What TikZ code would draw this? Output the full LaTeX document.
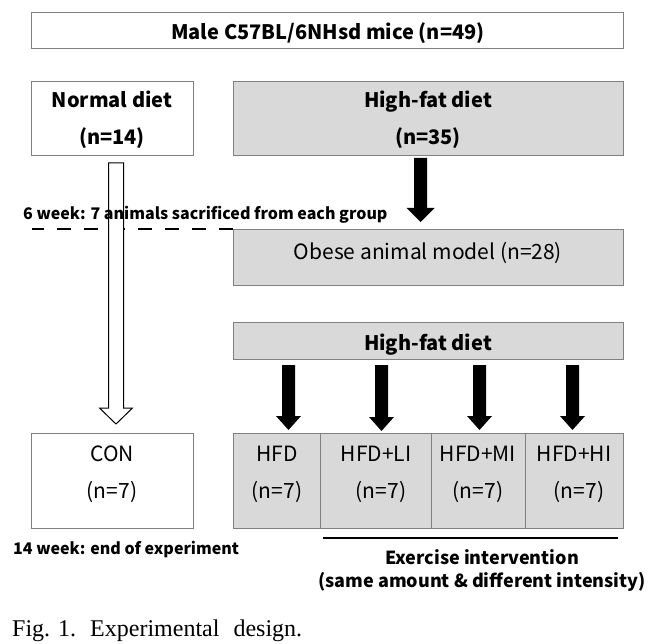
\documentclass[tikz,border=0pt]{standalone}
\usepackage{fontspec}
\setmainfont{Liberation Serif}
\newfontfamily\kr{Noto Sans CJK KR}
\usetikzlibrary{calc}
\definecolor{boxgray}{HTML}{D9D9D9}
\definecolor{edgegray}{HTML}{808080}
\newcommand{\blockarrow}[6]{%
  \path[#1] let \p1=(#2), \p2=(#3) in
  (\x1-#4pt,\y1) -- (\x1+#4pt,\y1) -- (\x1+#4pt,\y2+#6pt) -- (\x1+#5pt,\y2+#6pt)
  -- (\x1,\y2) -- (\x1-#5pt,\y2+#6pt) -- (\x1-#4pt,\y2+#6pt) -- cycle;}
\begin{document}
\begin{tikzpicture}[x=1pt,y=-1pt,
  box/.style={draw=edgegray, line width=1pt, inner sep=0pt, anchor=north west},
  gbox/.style={box, fill=boxgray},
  lbl/.style={font=\kr\fontsize{21}{25}\selectfont, inner sep=0pt, anchor=base},
  blbl/.style={font=\kr\bfseries\fontsize{20}{24}\selectfont, inner sep=0pt, anchor=base},
  note/.style={font=\kr\bfseries\fontsize{16}{19}\selectfont, inner sep=0pt, anchor=base west},
  exer/.style={font=\kr\bfseries\fontsize{18}{22}\selectfont, inner sep=0pt, anchor=base},
  blackarr/.style={fill=black},
  hollowarr/.style={fill=white, draw=black, line width=1pt},
]
\useasboundingbox[fill=white] (0,0) rectangle (666,644);

% boxes
\node[box, minimum width=592pt, minimum height=36pt] (top) at (31,12) {};
\node[box, minimum width=162pt, minimum height=74pt] (nd) at (31,81) {};
\node[gbox, minimum width=390pt, minimum height=74pt] (hf) at (233,81) {};
\node[gbox, minimum width=390pt, minimum height=56pt] (obese) at (233,229) {};
\node[gbox, minimum width=390pt, minimum height=37pt] (hf2) at (233,322) {};
\node[box, minimum width=162pt, minimum height=95pt] (con) at (31,433) {};
\node[gbox, minimum width=87pt, minimum height=95pt] (g1) at (233,433) {};
\node[gbox, minimum width=111pt, minimum height=95pt] (g2) at (320,433) {};
\node[gbox, minimum width=94pt, minimum height=95pt] (g3) at (431,433) {};
\node[gbox, minimum width=98pt, minimum height=95pt] (g4) at (525,433) {};

% dashed line at 6 weeks
\coordinate (dl) at (32,229);
\draw[line width=2pt, dash pattern=on 14pt off 13pt] (obese.north west) -- (dl);

% arrows
\coordinate (a0s) at ($(hf.south)+(-8,2)$);
\coordinate (a0e) at ($(obese.north)+(-8,-7)$);
\blockarrow{blackarr}{a0s}{a0e}{6.5}{14}{14}

\coordinate (ahs) at ($(nd.south)+(3.5,7)$);
\coordinate (ahe) at ($(ahs |- con.north)+(0,-9)$);
\blockarrow{hollowarr}{ahs}{ahe}{7.5}{16.5}{16}

\coordinate (b1s) at ($(hf2.south)+(-140,5)$);
\coordinate (b2s) at ($(hf2.south)+(-47,5)$);
\coordinate (b3s) at ($(hf2.south)+(51,5)$);
\coordinate (b4s) at ($(hf2.south)+(144,5)$);
\coordinate (b1e) at ($(b1s |- g1.north)+(0,-3)$);
\coordinate (b2e) at ($(b2s |- g2.north)+(0,-2)$);
\coordinate (b3e) at ($(b3s |- g3.north)+(0,-3)$);
\coordinate (b4e) at ($(b4s |- g4.north)+(0,-3)$);
\blockarrow{blackarr}{b1s}{b1e}{6.5}{12.5}{14}
\blockarrow{blackarr}{b2s}{b2e}{6.5}{12.5}{14}
\blockarrow{blackarr}{b3s}{b3e}{6.5}{12.5}{14}
\blockarrow{blackarr}{b4s}{b4e}{6.5}{12.5}{14}

% texts
\node[blbl] (ttop) at (328,39.5) {Male C57BL/6NHsd mice (n=49)};
\node[blbl] (tnd1) at (112,108) {Normal diet};
\node[blbl] (tnd2) at (112,145) {(n=14)};
\node[blbl] (thf1) at (428,108) {High-fat diet};
\node[blbl] (thf2) at (428,145) {(n=35)};
\node[note] (t6w) at (23,220) {6 week: 7 animals sacrificed from each group};
\node[lbl] (tob) at (428,259.5) {Obese animal model (n=28)};
\node[blbl] (thf3) at (428,350) {High-fat diet};
\node[lbl] (tcon1) at (112,461.5) {CON};
\node[lbl] (tcon2) at (112,498.5) {(n=7)};
\node[lbl] (tg1a) at (277,461.5) {HFD};
\node[lbl] (tg1b) at (277,498.5) {(n=7)};
\node[lbl] (tg2a) at (376,461.5) {HFD+LI};
\node[lbl] (tg2b) at (381,498.5) {(n=7)};
\node[lbl] (tg3a) at (478,461.5) {HFD+MI};
\node[lbl] (tg3b) at (478,498.5) {(n=7)};
\node[lbl] (tg4a) at (574,461.5) {HFD+HI};
\node[lbl] (tg4b) at (579,498.5) {(n=7)};
\node[note] (t14w) at (13,554) {14 week: end of experiment};

\coordinate (u1) at (323,538);
\coordinate (u2) at (618,538);
\draw[line width=2.5pt] (u1) -- (u2);
\node[exer] (tex1) at (482,564.5) {Exercise intervention};
\node[exer] (tex2) at (482,587.5) {(same amount \& different intensity)};
\node[font=\fontsize{24}{28}\selectfont, inner sep=0pt, anchor=base west] (cap) at (12,636) {Fig.\hspace{8pt}1.\hspace{14pt}Experimental\hspace{14pt}design.};
\end{tikzpicture}
\end{document}
